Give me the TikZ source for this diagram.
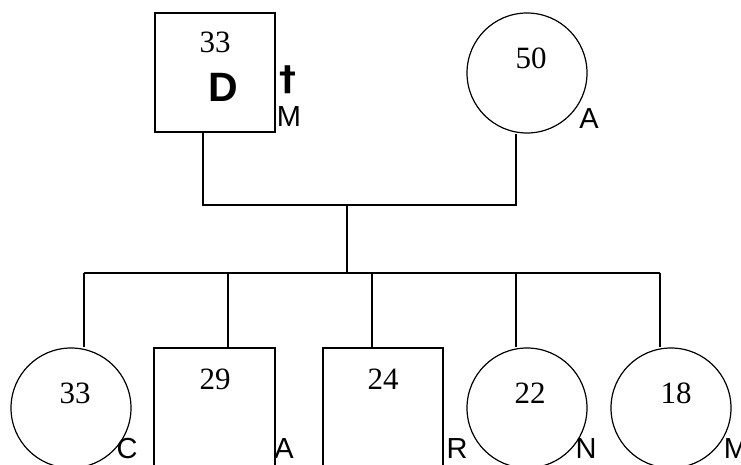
\documentclass[tikz,border=0pt]{standalone}
\usepackage{fontspec}
\setmainfont{Liberation Serif}
\setsansfont{Liberation Sans}
\newfontfamily\dagfont{DejaVu Sans}
\begin{document}
\begin{tikzpicture}[x=1pt,y=-1pt,
  line/.style={line width=1.2pt,black},
  sq/.style={draw,line width=1.2pt,rectangle,inner sep=0pt},
  fem/.style={draw,line width=1.2pt,circle,inner sep=0pt,minimum size=120pt},
  age/.style={font=\fontsize{31}{33}\selectfont\rmfamily,inner sep=0pt},
  tag/.style={font=\fontsize{29}{31}\selectfont\sffamily,inner sep=0pt}]
\clip (0,0) rectangle (741,465);
\useasboundingbox (0,0) rectangle (741,465);
% parents
\node[sq,minimum width=120pt,minimum height=119pt] (f) at (215,72.5) {};
\node[fem] (m) at (527,73) {};
\node[age] (fa) at (215,42) {33};
\node[font=\fontsize{41}{43}\selectfont\sffamily\bfseries,inner sep=0pt] (fd) at (223,87) {D};
\node[font=\fontsize{34}{36}\selectfont\dagfont\bfseries,inner sep=0pt] (fx) at (288,80) {†};
\node[tag] (fl) at (289,117) {M};
\node[age] (ma) at (531,58) {50};
\node[tag] (ml) at (589,119) {A};
% children
\node[fem] (c1) at (71,408) {};
\node[sq,minimum width=121pt,minimum height=160pt] (c2) at (214.5,428) {};
\node[sq,minimum width=120pt,minimum height=160pt] (c3) at (383,428) {};
\node[fem] (c4) at (527,408) {};
\node[fem] (c5) at (671,408) {};
\node[age] (a1) at (75,393) {33};
\node[age] (a2) at (215,379) {29};
\node[age] (a3) at (383,379) {24};
\node[age] (a4) at (530,393) {22};
\node[age] (a5) at (676,393) {18};
\node[tag] (l1) at (127,449) {C};
\node[tag] (l2) at (284,449) {A};
\node[tag] (l3) at (457,449) {R};
\node[tag] (l4) at (586,449) {N};
\node[tag] (l5) at (736,449) {M};
% connector coordinates
\coordinate (pf) at (203,205);
\coordinate (pm) at (516,205);
\coordinate (pc) at (347,205);
\coordinate (sc) at (347,273);
\coordinate (j1) at (84,273);
\coordinate (j2) at (228,273);
\coordinate (j3) at (372,273);
\coordinate (j4) at (516,273);
\coordinate (j5) at (660,273);
\draw[line] (pf |- f.south) -- (pf) -- (pm) -- (pm |- m.south);
\draw[line] (pc) -- (sc);
\draw[line] (j1) -- (j5);
\draw[line] (j1) -- (j1 |- c1.north);
\draw[line] (j2) -- (j2 |- c2.north);
\draw[line] (j3) -- (j3 |- c3.north);
\draw[line] (j4) -- (j4 |- c4.north);
\draw[line] (j5) -- (j5 |- c5.north);
\end{tikzpicture}
\end{document}
